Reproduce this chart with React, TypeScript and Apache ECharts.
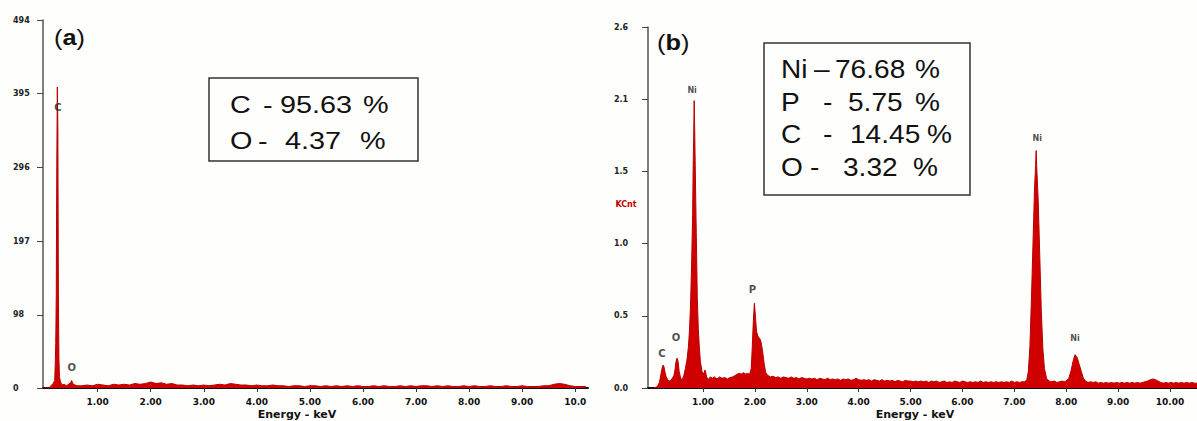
import React, { useEffect, useRef } from "react";
import * as echarts from "echarts";

// ---------- data ----------
const xTickValues = [1, 2, 3, 4, 5, 6, 7, 8, 9, 10];
const xTickLabelsA = ["1.00", "2.00", "3.00", "4.00", "5.00", "6.00", "7.00", "8.00", "9.00", "10.0"];
const xTickLabelsB = ["1.00", "2.00", "3.00", "4.00", "5.00", "6.00", "7.00", "8.00", "9.00", "10.00"];
const yTickValuesA = [0, 98, 197, 296, 395, 494];
const yTickLabelsA = ["0", "98", "197", "296", "395", "494"];
const yTickValuesB = [0, 0.52, 1.04, 1.56, 2.08, 2.6];
const yTickLabelsB = ["0.0", "0.5", "1.0", "1.5", "2.1", "2.6"];

// (a) spectrum: [energy keV, counts]
const spectrumA: [number, number][] = [
  [0.0, 0], [0.08, 0], [0.12, 3], [0.16, 6], [0.19, 10], [0.2, 30], [0.21, 60], [0.22, 125],
  [0.23, 300], [0.24, 404], [0.25, 350], [0.26, 125], [0.27, 40], [0.28, 15], [0.3, 8],
  [0.33, 4], [0.37, 5], [0.41, 3], [0.45, 5], [0.49, 7], [0.51, 10], [0.53, 6], [0.57, 4],
  [0.62, 3], [0.7, 3], [0.8, 4], [0.9, 3], [1.0, 5], [1.1, 4], [1.2, 3], [1.3, 5], [1.4, 4],
  [1.5, 5], [1.6, 4], [1.7, 6], [1.8, 5], [1.9, 6], [2.0, 8], [2.1, 6], [2.2, 7], [2.3, 5],
  [2.4, 6], [2.5, 4], [2.6, 4], [2.7, 3], [2.8, 4], [2.9, 3], [3.0, 4], [3.1, 3], [3.2, 4],
  [3.3, 5], [3.4, 4], [3.5, 6], [3.6, 5], [3.7, 4], [3.8, 4], [3.9, 3], [4.0, 4], [4.1, 3],
  [4.2, 3], [4.3, 4], [4.4, 3], [4.5, 3], [4.6, 2], [4.7, 3], [4.8, 3], [4.9, 2], [5.0, 3],
  [5.1, 3], [5.2, 2], [5.3, 3], [5.4, 2], [5.5, 3], [5.6, 2], [5.7, 3], [5.8, 2], [5.9, 3],
  [6.0, 2], [6.1, 2], [6.2, 3], [6.3, 2], [6.4, 3], [6.5, 2], [6.6, 2], [6.7, 3], [6.8, 2],
  [6.9, 3], [7.0, 2], [7.1, 3], [7.2, 3], [7.3, 2], [7.4, 3], [7.5, 2], [7.6, 3], [7.7, 2],
  [7.8, 2], [7.9, 3], [8.0, 2], [8.1, 3], [8.2, 2], [8.3, 2], [8.4, 3], [8.5, 2], [8.6, 2],
  [8.7, 3], [8.8, 2], [8.9, 2], [9.0, 3], [9.1, 2], [9.2, 2], [9.3, 2], [9.4, 3], [9.5, 3],
  [9.6, 5], [9.7, 6], [9.8, 5], [9.9, 3], [10.0, 2], [10.1, 2], [10.2, 2],
];

// (b) spectrum: [energy keV, KCnt]
const spectrumB: [number, number][] = [
  [0.05, 0], [0.12, 0.01], [0.16, 0.04], [0.19, 0.1], [0.21, 0.14], [0.23, 0.165], [0.25, 0.15],
  [0.27, 0.11], [0.29, 0.08], [0.32, 0.06], [0.35, 0.05], [0.38, 0.055], [0.41, 0.07], [0.44, 0.09],
  [0.46, 0.13], [0.48, 0.19], [0.5, 0.215], [0.52, 0.19], [0.54, 0.12], [0.57, 0.07], [0.6, 0.06],
  [0.63, 0.09], [0.66, 0.14], [0.69, 0.2], [0.72, 0.3], [0.74, 0.42], [0.76, 0.6], [0.78, 0.88],
  [0.8, 1.25], [0.81, 1.58], [0.82, 1.8], [0.83, 2.07], [0.84, 1.86], [0.85, 1.6], [0.87, 1.12],
  [0.89, 0.65], [0.91, 0.42], [0.93, 0.29], [0.95, 0.19], [0.98, 0.12], [1.01, 0.1], [1.04, 0.13],
  [1.07, 0.08], [1.1, 0.06], [1.14, 0.08], [1.18, 0.07], [1.22, 0.08], [1.27, 0.065], [1.32, 0.08],
  [1.37, 0.07], [1.42, 0.075], [1.47, 0.065], [1.52, 0.075], [1.57, 0.08], [1.62, 0.09], [1.66, 0.1],
  [1.7, 0.105], [1.74, 0.1], [1.78, 0.11], [1.82, 0.1], [1.86, 0.105], [1.9, 0.1], [1.93, 0.14],
  [1.95, 0.3], [1.97, 0.48], [1.99, 0.61], [2.01, 0.52], [2.03, 0.41], [2.06, 0.37], [2.09, 0.36],
  [2.12, 0.33], [2.15, 0.26], [2.18, 0.17], [2.21, 0.11], [2.25, 0.09], [2.3, 0.08], [2.35, 0.085],
  [2.4, 0.075], [2.45, 0.08], [2.5, 0.07], [2.55, 0.08], [2.6, 0.075], [2.65, 0.07], [2.7, 0.08],
  [2.75, 0.07], [2.8, 0.075], [2.85, 0.065], [2.9, 0.075], [2.95, 0.07], [3.0, 0.065], [3.05, 0.07],
  [3.1, 0.065], [3.15, 0.07], [3.2, 0.06], [3.25, 0.07], [3.3, 0.065], [3.35, 0.06], [3.4, 0.07],
  [3.45, 0.06], [3.5, 0.065], [3.55, 0.06], [3.6, 0.065], [3.65, 0.055], [3.7, 0.065], [3.75, 0.06],
  [3.8, 0.065], [3.85, 0.055], [3.9, 0.06], [3.95, 0.07], [4.0, 0.06], [4.05, 0.055], [4.1, 0.06],
  [4.15, 0.055], [4.2, 0.06], [4.25, 0.05], [4.3, 0.06], [4.35, 0.055], [4.4, 0.05], [4.45, 0.06],
  [4.5, 0.05], [4.55, 0.055], [4.6, 0.05], [4.65, 0.055], [4.7, 0.045], [4.75, 0.055], [4.8, 0.05],
  [4.85, 0.045], [4.9, 0.055], [4.95, 0.05], [5.0, 0.05], [5.05, 0.045], [5.1, 0.05], [5.15, 0.045],
  [5.2, 0.05], [5.25, 0.045], [5.3, 0.05], [5.35, 0.04], [5.4, 0.05], [5.45, 0.045], [5.5, 0.05],
  [5.55, 0.04], [5.6, 0.045], [5.65, 0.05], [5.7, 0.04], [5.75, 0.045], [5.8, 0.04], [5.85, 0.05],
  [5.9, 0.045], [5.95, 0.04], [6.0, 0.05], [6.05, 0.045], [6.1, 0.04], [6.15, 0.045], [6.2, 0.04],
  [6.25, 0.045], [6.3, 0.04], [6.35, 0.05], [6.4, 0.04], [6.45, 0.045], [6.5, 0.04], [6.55, 0.045],
  [6.6, 0.04], [6.65, 0.045], [6.7, 0.04], [6.75, 0.045], [6.8, 0.04], [6.85, 0.045], [6.9, 0.04],
  [6.95, 0.05], [7.0, 0.04], [7.05, 0.045], [7.1, 0.04], [7.15, 0.045], [7.2, 0.045], [7.24, 0.06],
  [7.27, 0.12], [7.3, 0.3], [7.33, 0.65], [7.36, 1.05], [7.39, 1.45], [7.41, 1.6], [7.42, 1.71],
  [7.43, 1.6], [7.46, 1.35], [7.49, 0.95], [7.52, 0.55], [7.55, 0.28], [7.58, 0.14], [7.62, 0.07],
  [7.67, 0.05], [7.72, 0.045], [7.77, 0.05], [7.82, 0.04], [7.87, 0.045], [7.92, 0.05], [7.97, 0.045],
  [8.01, 0.055], [8.05, 0.07], [8.09, 0.12], [8.13, 0.19], [8.17, 0.24], [8.21, 0.22], [8.25, 0.17],
  [8.29, 0.12], [8.33, 0.07], [8.37, 0.05], [8.42, 0.04], [8.47, 0.045], [8.52, 0.04], [8.57, 0.045],
  [8.62, 0.035], [8.67, 0.04], [8.72, 0.035], [8.77, 0.04], [8.82, 0.035], [8.87, 0.04], [8.92, 0.035],
  [8.97, 0.04], [9.02, 0.035], [9.07, 0.04], [9.12, 0.035], [9.17, 0.04], [9.22, 0.035], [9.27, 0.04],
  [9.32, 0.035], [9.37, 0.04], [9.42, 0.035], [9.47, 0.04], [9.52, 0.045], [9.57, 0.05], [9.62, 0.06],
  [9.67, 0.065], [9.72, 0.06], [9.77, 0.05], [9.82, 0.04], [9.87, 0.035], [9.92, 0.04], [9.97, 0.035],
  [10.02, 0.04], [10.07, 0.035], [10.12, 0.04], [10.17, 0.035], [10.22, 0.04], [10.27, 0.035],
  [10.32, 0.04], [10.37, 0.035], [10.42, 0.04], [10.47, 0.035], [10.52, 0.035],
];

// peak labels: [energy, value, element]
const peakLabelsA: [number, number, string][] = [[0.25, 376, "C"], [0.51, 27, "O"]];
const peakLabelsB: [number, number, string][] = [
  [0.21, 0.245, "C"], [0.48, 0.367, "O"], [0.79, 2.146, "Ni"], [1.95, 0.706, "P"],
  [7.44, 1.8, "Ni"], [8.17, 0.36, "Ni"],
];

// composition tables
const compElementsA = ["C", "O"];
const compDashA = ["-", "-"];
const compPercentA = ["95.63", "4.37"];
const compElementsB = ["Ni", "P", "C", "O"];
const compDashB = ["\u2013", "-", "-", "-"];
const compPercentB = ["76.68", "5.75", "14.45", "3.32"];

// ---------- layout ----------
const layoutA = {
  rowY: [105, 141], elX: [230, 230], dashX: [263, 258], valX: [280, 285], pctX: [363, 360],
  size: 24, scale: 1.2,
};
const layoutB = {
  rowY: [69, 102, 134, 167],
  elX: [781, 781, 781, 781],
  dashX: [814, 823, 823, 810],
  valX: [835, 848, 850, 843],
  pctX: [915, 915, 927, 913],
  size: 26, scale: 1.08,
};

const RED = "#d00000";
const BG = "#fefefc";
const AXIS_FONT = "DejaVu Sans, Verdana, sans-serif";
const BOX_FONT = "Liberation Sans, Arial, sans-serif";

function pick(values: number[], labels: string[]) {
  return (v: number) => {
    const i = values.findIndex((t) => Math.abs(t - v) < 1e-6);
    return i >= 0 ? labels[i] : "";
  };
}

function compText(x: number, y: number, text: string, size: number, scale: number) {
  return {
    type: "text",
    x,
    y,
    scaleX: scale,
    style: {
      text,
      x: 0,
      y: 0,
      fill: "#111",
      font: `${size}px ${BOX_FONT}`,
      align: "left",
      verticalAlign: "middle",
      textAlign: "left",
      textVerticalAlign: "middle",
    },
  };
}

function compTable(els: string[], dashes: string[], vals: string[], lay: any) {
  const out: any[] = [];
  els.forEach((el, i) => {
    out.push(compText(lay.elX[i], lay.rowY[i], el, lay.size, lay.scale));
    out.push(compText(lay.dashX[i], lay.rowY[i], dashes[i], lay.size, lay.scale));
    out.push(compText(lay.valX[i], lay.rowY[i], vals[i], lay.size, lay.scale));
    out.push(compText(lay.pctX[i], lay.rowY[i], "%", lay.size, lay.scale));
  });
  return out;
}

function plainText(x: number, y: number, text: string, font: string, fill = "#111", align = "center") {
  return {
    type: "text",
    x,
    y,
    style: { text, x: 0, y: 0, font, fill, align, verticalAlign: "middle", textAlign: align, textVerticalAlign: "middle" },
  };
}

function panelLetter(x: number, y: number, letter: string) {
  return {
    type: "text",
    x,
    y,
    scaleX: 1.15,
    style: {
      text: `{p|(}{b|${letter}}{p|)}`,
      x: 0,
      y: 0,
      align: "left",
      verticalAlign: "middle",
      rich: {
        p: { fontSize: 22, fontFamily: BOX_FONT, fontWeight: "normal", fill: "#111", color: "#111" },
        b: { fontSize: 22, fontFamily: BOX_FONT, fontWeight: "bold", fill: "#111", color: "#111" },
      },
    },
  };
}

function xAxisCfg(grid: number, min: number, max: number, labels: string[]) {
  return {
    type: "value",
    gridIndex: grid,
    min,
    max,
    axisLine: { show: true, onZero: false, lineStyle: { color: "#111", width: 2 } },
    axisTick: { show: true, customValues: xTickValues, length: 4, lineStyle: { color: "#333", width: 1 } },
    axisLabel: {
      show: true,
      customValues: xTickValues,
      formatter: pick(xTickValues, labels),
      fontFamily: AXIS_FONT,
      fontSize: 9,
      fontWeight: "bold",
      color: "#111",
      margin: 9,
    },
    splitLine: { show: false },
  };
}

function yAxisCfg(grid: number, max: number, values: number[], labels: string[], margin: number) {
  return {
    type: "value",
    gridIndex: grid,
    min: 0,
    max,
    axisLine: { show: true, onZero: false, lineStyle: { color: "#555", width: 1.5 } },
    axisTick: { show: true, customValues: values, length: 6, lineStyle: { color: "#444", width: 1 } },
    axisLabel: {
      show: true,
      customValues: values,
      formatter: pick(values, labels),
      fontFamily: AXIS_FONT,
      fontSize: 8,
      fontWeight: "bold",
      color: "#222",
      align: "left",
      margin,
    },
    splitLine: { show: false },
  };
}

function spectrumSeries(data: [number, number][], idx: number) {
  return {
    type: "line",
    xAxisIndex: idx,
    yAxisIndex: idx,
    data,
    showSymbol: false,
    symbol: "none",
    lineStyle: { color: "#b80000", width: 1 },
    areaStyle: { color: RED, opacity: 1 },
    silent: true,
    z: 2,
  };
}

function labelSeries(data: [number, number, string][], idx: number) {
  return {
    type: "scatter",
    xAxisIndex: idx,
    yAxisIndex: idx,
    data,
    symbolSize: 1,
    itemStyle: { color: "rgba(0,0,0,0)" },
    silent: true,
    z: 5,
    label: {
      show: true,
      position: "inside",
      formatter: (p: any) => (p.data[2] === "Ni" ? `{ni|Ni}` : `{el|${p.data[2]}}`),
      rich: {
        ni: { fontSize: 8, fontWeight: "bold", fontFamily: AXIS_FONT, color: "#222" },
        el: { fontSize: 10, fontWeight: "bold", fontFamily: AXIS_FONT, color: "#222" },
      },
    },
  };
}

const option: any = {
  animation: false,
  backgroundColor: BG,
  grid: [
    { left: 43, top: 20, width: 545, height: 368 },
    { left: 648, top: 27, width: 549, height: 361 },
  ],
  xAxis: [xAxisCfg(0, -0.03, 10.24, xTickLabelsA), xAxisCfg(1, -0.06, 10.52, xTickLabelsB)],
  yAxis: [
    yAxisCfg(0, 494, yTickValuesA, yTickLabelsA, 30),
    yAxisCfg(1, 2.6, yTickValuesB, yTickLabelsB, 34),
  ],
  series: [spectrumSeries(spectrumA, 0), spectrumSeries(spectrumB, 1), labelSeries(peakLabelsA, 0), labelSeries(peakLabelsB, 1)],
  graphic: [
    {
      type: "rect",
      shape: { x: 209, y: 78, width: 209, height: 83 },
      style: { fill: BG, stroke: "#333", lineWidth: 1.5 },
    },
    {
      type: "rect",
      shape: { x: 764, y: 43, width: 206, height: 152 },
      style: { fill: BG, stroke: "#333", lineWidth: 1.5 },
    },
    ...compTable(compElementsA, compDashA, compPercentA, layoutA),
    ...compTable(compElementsB, compDashB, compPercentB, layoutB),
    panelLetter(54, 38, "a"),
    panelLetter(657, 43, "b"),
    plainText(297, 414, "Energy - keV", `bold 11px ${AXIS_FONT}`),
    plainText(915, 414, "Energy - keV", `bold 11px ${AXIS_FONT}`),
    plainText(626, 204, "KCnt", `bold 8px ${AXIS_FONT}`, "#c00000"),
  ],
};

export default function App() {
  const ref = useRef<HTMLDivElement>(null);
  useEffect(() => {
    if (!ref.current) return;
    const chart = echarts.init(ref.current, null, { renderer: "svg" });
    chart.setOption(option);
    return () => chart.dispose();
  }, []);
  return <div ref={ref} style={{ position: "fixed", left: 0, top: 0, width: 1197, height: 421 }} />;
}
